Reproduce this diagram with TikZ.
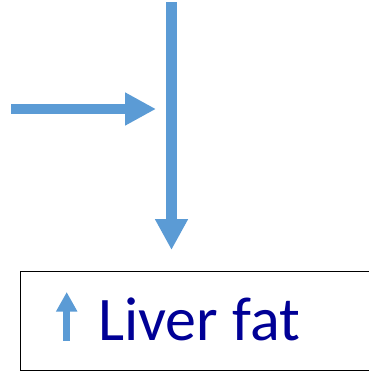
\documentclass[tikz,border=0pt]{standalone}
\usepackage{fontspec}
\setmainfont{Carlito}
\usetikzlibrary{arrows.meta}
\definecolor{arrowblue}{HTML}{5B9BD5}
\definecolor{textnavy}{RGB}{0,0,150}
\tikzset{
  bigarrow/.style={draw=arrowblue, line width=10.5pt, -{Triangle[width=31pt,length=31pt]}, arrowblue},
  smallarrow/.style={draw=arrowblue, line width=6.5pt, -{Triangle[width=20pt,length=19.5pt]}, arrowblue},
  framearea/.style={rectangle, inner sep=0pt, minimum width=354pt, minimum height=98.8pt},
  frameline/.style={draw=black, line width=1.5pt},
  labeltext/.style={text=textnavy, font=\fontsize{62pt}{68pt}\selectfont, inner sep=0pt, anchor=base west}
}
\begin{document}
\begin{tikzpicture}[x=1pt,y=1pt]
\useasboundingbox (0,0) rectangle (369,-372);
\clip (0,0) rectangle (369,-372);
\coordinate (vtop) at (171.5,-2);
\coordinate (vtip) at (171.5,-250);
\coordinate (hstart) at (11,-109);
\coordinate (htip) at (156,-109);
\node[framearea] (box) at (197.85,-321.1) {};
\draw[frameline] ([xshift=30pt]box.north east) -- (box.north west) -- (box.south west) -- ([xshift=30pt]box.south east);
\coordinate (ubot) at (66.7,-340.7);
\coordinate (utip) at (66.7,-292);
\draw[bigarrow] (vtop) -- (vtip);
\draw[bigarrow] (hstart) -- (htip);
\draw[smallarrow] (ubot) -- (utip);
\node[labeltext] (label) at (98,-340) {Liver fat};
\end{tikzpicture}
\end{document}
